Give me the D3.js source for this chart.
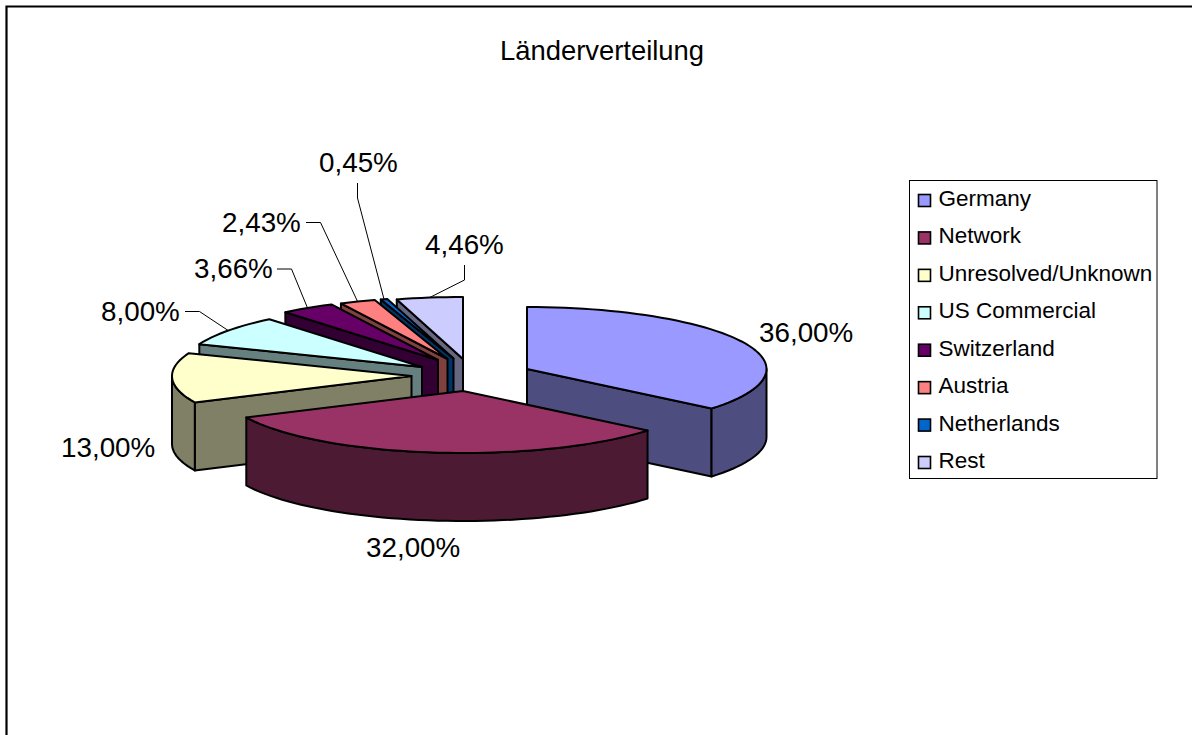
<!DOCTYPE html>
<html><head><meta charset="utf-8">
<script src="https://cdn.jsdelivr.net/npm/d3@7"></script>
<style>html,body{margin:0;padding:0;background:#fff;overflow:hidden}svg{display:block}text{font-family:"Liberation Sans",Arial,sans-serif;fill:#000}</style>
</head><body><svg id="c" width="1192" height="735"></svg>
<script>
const categories = ["Germany","Network","Unresolved/Unknown","US Commercial","Switzerland","Austria","Netherlands","Rest"];
const values = [36,32,13,8,3.66,2.43,0.45,4.46];
const topColors = ["#9999FF","#993366","#FFFFCC","#CCFFFF","#660066","#FF8080","#0066CC","#CCCCFF"];
const wallColors = ["#4D4D80","#4D1A33","#808066","#668080","#330033","#804040","#003366","#666680"];
const chartTitle = "Länderverteilung";

// layout (exploded slice apexes, label and leader placement)
const apexes = [[527,369],[463,391],[411.5,376],[422,367],[438,360],[447.5,359],[453.5,358.5],[463,359]];
const paintOrder = [7,6,5,4,3,2,0,1];
const labelPos = [[759,342],[366,557],[61,457],[101,321],[194,278],[222,232],[319,172],[425,254]];
const leaders = [null,null,null,
  [[185,311.5],[199.5,311.5]],
  [[277,269],[291.5,269]],
  [[306,222.5],[320.5,222.5]],
  [[357.5,183],[357.5,198]],
  [[464.5,265],[464.5,280]]];

const RX = 239.5, RY = 62, DEPTH = 68;
const sx = d3.scaleLinear().domain([-1,1]).range([-RX,RX]);
const sy = d3.scaleLinear().domain([-1,1]).range([-RY,RY]);
const depth = d3.scaleLinear().domain([0,1]).range([0,DEPTH]);

const svg = d3.select("#c");
svg.append("path").attr("d","M6.5 735V6.5H1192").attr("fill","none").attr("stroke","#000").attr("stroke-width",2.2);
svg.append("text").attr("x",602).attr("y",60).attr("text-anchor","middle").attr("font-size",27.4).text(chartTitle);

const arcs = d3.pie().sort(null).value(d=>d)(values);
const rim = (i,a,z=0)=>[apexes[i][0]+sx(Math.sin(a)), apexes[i][1]-sy(Math.cos(a))+depth(z)];
const apexAt = (i,z=0)=>[apexes[i][0], apexes[i][1]+depth(z)];
const arcPts = (i,a0,a1,z=0)=>{
  const n = Math.max(2,Math.ceil((a1-a0)/0.04));
  return d3.range(n+1).map(k=>rim(i,a0+(a1-a0)*k/n,z));
};
const line = d3.line();
const closed = p=>line(p)+"Z";
const g = svg.append("g").attr("stroke","#000").attr("stroke-width",2).attr("stroke-linejoin","round");

paintOrder.forEach(i=>{
  const {startAngle:a0,endAngle:a1} = arcs[i];
  const wall = wallColors[i];
  const radial = a=>closed([apexAt(i),rim(i,a),rim(i,a,1),apexAt(i,1)]);
  if(Math.sin(a0)<-1e-6) g.append("path").attr("d",radial(a0)).attr("fill",wall);
  if(Math.sin(a1)>1e-6) g.append("path").attr("d",radial(a1)).attr("fill",wall);
  const lo = Math.max(a0,Math.PI/2), hi = Math.min(a1,Math.PI*1.5);
  if(hi>lo){
    g.append("path").attr("d",closed(arcPts(i,lo,hi).concat(arcPts(i,lo,hi,1).reverse()))).attr("fill",wall);
  }
  g.append("path").attr("d",closed([apexAt(i)].concat(arcPts(i,a0,a1)))).attr("fill",topColors[i]);
});

const fmt = d3.formatLocale({decimal:",",thousands:".",grouping:[3],currency:["","€"]}).format(".2f");
arcs.forEach((d,i)=>{
  if(leaders[i]){
    svg.append("path").attr("fill","none").attr("stroke","#000").attr("stroke-width",1)
      .attr("d",line(leaders[i].concat([rim(i,(d.startAngle+d.endAngle)/2)])));
  }
  svg.append("text").attr("x",labelPos[i][0]).attr("y",labelPos[i][1]).attr("font-size",27.8).text(fmt(values[i])+"%");
});

const legend = svg.append("g");
legend.append("rect").attr("x",909.5).attr("y",180.5).attr("width",247.5).attr("height",298).attr("fill","#fff").attr("stroke","#000").attr("stroke-width",1);
const ly = d3.scalePoint().domain(categories).range([200.5,462.5]);
categories.forEach((c,i)=>{
  legend.append("rect").attr("x",918.5).attr("y",ly(c)-6).attr("width",12).attr("height",12).attr("fill",topColors[i]).attr("stroke","#000").attr("stroke-width",1.6);
  legend.append("text").attr("x",938.5).attr("y",ly(c)+5.5).attr("font-size",22.5).text(c);
});
</script></body></html>
